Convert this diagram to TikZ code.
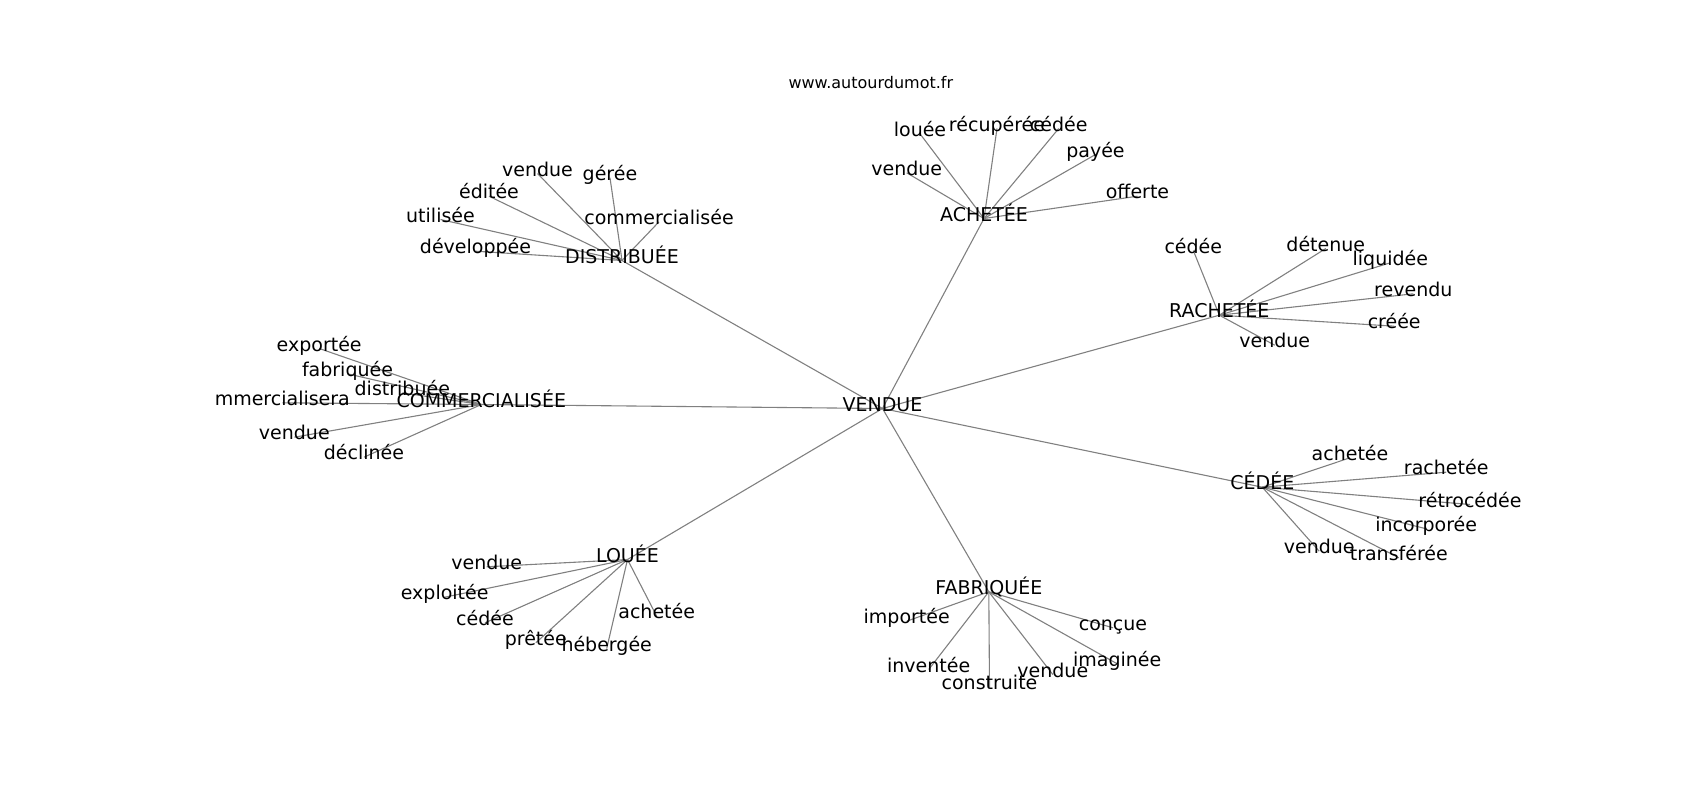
\documentclass[tikz,border=0pt]{standalone}
\usepackage{fontspec}
\setmainfont{DejaVu Sans}
\usetikzlibrary{backgrounds}
\definecolor{edgegray}{HTML}{808080}
\tikzset{
  lbl/.style={inner sep=0pt, anchor=center, font=\fontsize{19bp}{22bp}\selectfont, text height=0.76em, text depth=0.24em},
  ttl/.style={inner sep=0pt, anchor=center, font=\fontsize{16bp}{19bp}\selectfont},
  edge/.style={draw=edgegray, line width=1.1bp}
}
\begin{document}
\begin{tikzpicture}[x=1bp,y=-1bp]
\useasboundingbox (0,0) rectangle (1700,800);
\node[ttl] (title) at (870.8,82.7) {www.autourdumot.fr};
\begin{scope}[shift={(0,4.5)}]
% hubs
\node[lbl] (V) at (882.5,404) {VENDUE};
\node[lbl] (A) at (984,214) {ACHETÉE};
\node[lbl] (D) at (622,256) {DISTRIBUÉE};
\node[lbl] (R) at (1219.3,310.7) {RACHETÉE};
\node[lbl] (C) at (481.3,400) {COMMERCIALISÉE};
\node[lbl] (E) at (1262.3,482.7) {CÉDÉE};
\node[lbl] (L) at (627.5,555) {LOUÉE};
\node[lbl] (F) at (988.8,587.3) {FABRIQUÉE};
% DISTRIBUÉE leaves
\node[lbl] (d1) at (537.5,169) {vendue};
\node[lbl] (d2) at (610,173.3) {gérée};
\node[lbl] (d3) at (489,191.7) {éditée};
\node[lbl] (d4) at (440.5,215) {utilisée};
\node[lbl] (d5) at (659,217.3) {commercialisée};
\node[lbl] (d6) at (475.5,246.7) {développée};
% ACHETÉE leaves
\node[lbl] (a1) at (920,129.3) {louée};
\node[lbl] (a2) at (997,124) {récupérée};
\node[lbl] (a3) at (1058.7,124) {cédée};
\node[lbl] (a4) at (1095.5,150) {payée};
\node[lbl] (a5) at (906.7,168.3) {vendue};
\node[lbl] (a6) at (1137.5,191.7) {offerte};
% RACHETÉE leaves
\node[lbl] (r1) at (1193.3,246) {cédée};
\node[lbl] (r2) at (1325.8,244) {détenue};
\node[lbl] (r3) at (1390.3,258.3) {liquidée};
\node[lbl] (r4) at (1413.3,289.3) {revendu};
\node[lbl] (r5) at (1394.2,321.7) {créée};
\node[lbl] (r6) at (1274.7,340.7) {vendue};
% COMMERCIALISÉE leaves
\node[lbl] (c1) at (319.2,344) {exportée};
\node[lbl] (c2) at (347.5,369.3) {fabriquée};
\node[lbl] (c3) at (402.3,388.3) {distribuée};
\node[lbl] (c4) at (282.3,398.3) {mmercialisera};
\node[lbl] (c5) at (294.3,432.7) {vendue};
\node[lbl] (c6) at (364,452.7) {déclinée};
% CÉDÉE leaves
\node[lbl] (e1) at (1350,453.3) {achetée};
\node[lbl] (e2) at (1446.2,467.7) {rachetée};
\node[lbl] (e3) at (1470,500) {rétrocédée};
\node[lbl] (e4) at (1426.2,524.3) {incorporée};
\node[lbl] (e5) at (1319.2,546.7) {vendue};
\node[lbl] (e6) at (1398.8,553.3) {transférée};
% LOUÉE leaves
\node[lbl] (l1) at (486.7,562.3) {vendue};
\node[lbl] (l2) at (444.7,592.7) {exploitée};
\node[lbl] (l3) at (485,618.3) {cédée};
\node[lbl] (l4) at (656.7,611.7) {achetée};
\node[lbl] (l5) at (535.8,638.3) {prêtée};
\node[lbl] (l6) at (606.7,644) {hébergée};
% FABRIQUÉE leaves
\node[lbl] (f1) at (906.7,616.7) {importée};
\node[lbl] (f2) at (1113,623.3) {conçue};
\node[lbl] (f3) at (928.7,665) {inventée};
\node[lbl] (f4) at (1117.2,659.3) {imaginée};
\node[lbl] (f5) at (1052.8,670) {vendue};
\node[lbl] (f6) at (989.5,682.7) {construite};
\end{scope}
\begin{scope}[on background layer]
  \foreach \h in {A,D,R,C,E,L,F} \draw[edge] (V.center) -- (\h.center);
  \foreach \i in {1,...,6} {
    \draw[edge] (D.center) -- (d\i.center);
    \draw[edge] (A.center) -- (a\i.center);
    \draw[edge] (R.center) -- (r\i.center);
    \draw[edge] (C.center) -- (c\i.center);
    \draw[edge] (E.center) -- (e\i.center);
    \draw[edge] (L.center) -- (l\i.center);
    \draw[edge] (F.center) -- (f\i.center);
  }
\end{scope}
\end{tikzpicture}
\end{document}
